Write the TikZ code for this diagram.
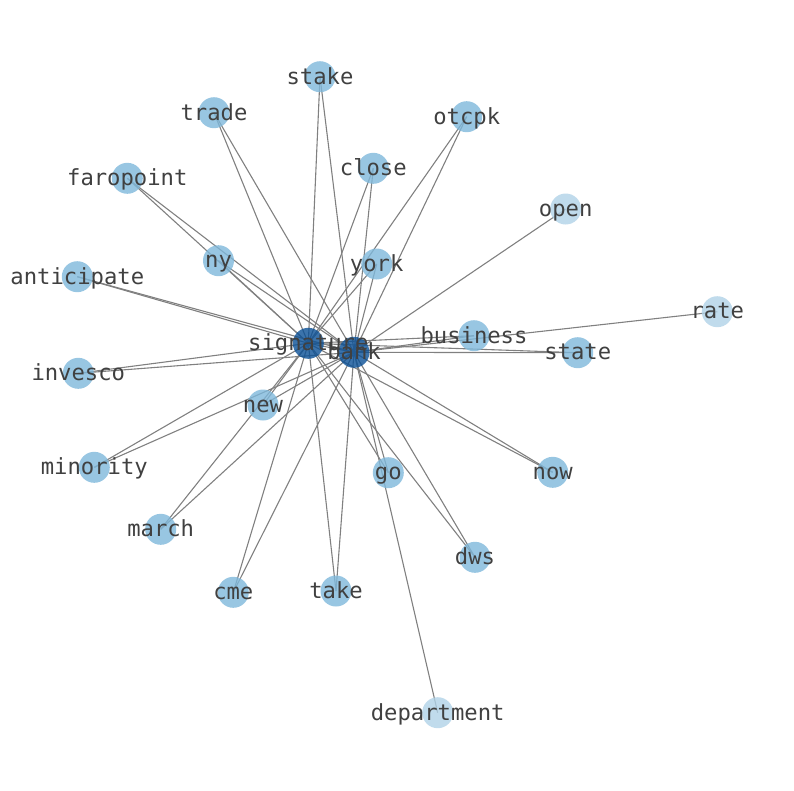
\documentclass[tikz,border=0pt]{standalone}
\usepackage{fontspec}
\newfontfamily\lblfont{DejaVu Sans Mono}
\definecolor{midblue}{RGB}{126,184,219}
\definecolor{lightblue}{RGB}{176,210,231}
\definecolor{darkblue}{RGB}{10,80,150}
\definecolor{edgegray}{RGB}{128,128,128}
\definecolor{labelgray}{RGB}{64,64,64}
\tikzset{
  vert/.style={circle, minimum size=31pt, inner sep=0pt, fill=midblue, fill opacity=0.8, draw=none},
  vertlight/.style={vert, fill=lightblue},
  vertdark/.style={vert, fill=darkblue},
  lbl/.style={font=\lblfont\fontsize{22.2}{22.2}\selectfont, text=labelgray, inner sep=0pt, anchor=center, yshift=-1.5pt},
  edge/.style={draw=edgegray, line width=1.1pt}
}
\begin{document}
\begin{tikzpicture}[x=1pt, y=-1pt]
\useasboundingbox (0,0) rectangle (794,790);
% coordinates
\coordinate (signature) at (308.3,343.3);
\coordinate (bank) at (354,352.3);
\coordinate (stake) at (320,76.7);
\coordinate (trade) at (214,112.7);
\coordinate (otcpk) at (466.7,116.7);
\coordinate (close) at (373.3,168.3);
\coordinate (faropoint) at (127.3,178.3);
\coordinate (open) at (565.7,209);
\coordinate (ny) at (218.5,260.7);
\coordinate (york) at (376.7,264);
\coordinate (anticipate) at (77.3,276.7);
\coordinate (rate) at (717.3,311.7);
\coordinate (business) at (474,335.7);
\coordinate (state) at (577.7,352.7);
\coordinate (invesco) at (78.3,373.3);
\coordinate (new) at (263,405);
\coordinate (minority) at (94.3,467.3);
\coordinate (go) at (388.3,472.7);
\coordinate (now) at (552.7,472.3);
\coordinate (march) at (160.7,529.3);
\coordinate (dws) at (475,557.3);
\coordinate (cme) at (233.3,592.3);
\coordinate (take) at (336,591);
\coordinate (department) at (437.7,712.7);
% edges
\foreach \n in {stake,trade,otcpk,close,faropoint,ny,york,anticipate,business,state,invesco,new,minority,go,now,march,dws,cme,take}{
  \draw[edge] (\n) -- (signature);
  \draw[edge] (\n) -- (bank);
}
\foreach \n in {open,rate,department}{
  \draw[edge] (\n) -- (bank);
}
\draw[edge] (signature) -- (bank);
% nodes
\foreach \n in {stake,trade,otcpk,close,faropoint,ny,york,anticipate,business,state,invesco,new,minority,go,now,march,dws,cme,take}{
  \node[vert] (n-\n) at (\n) {};
}
\foreach \n in {open,rate,department}{
  \node[vertlight] (n-\n) at (\n) {};
}
\node[vertdark] (n-signature) at (signature) {};
\node[vertdark] (n-bank) at (bank) {};
% labels
\foreach \n in {stake,trade,otcpk,close,faropoint,ny,york,anticipate,business,state,invesco,new,minority,go,now,march,dws,cme,take,open,rate,department,signature,bank}{
  \node[lbl] (t-\n) at (\n) {\vphantom{Ag}\n};
}
\end{tikzpicture}
\end{document}
